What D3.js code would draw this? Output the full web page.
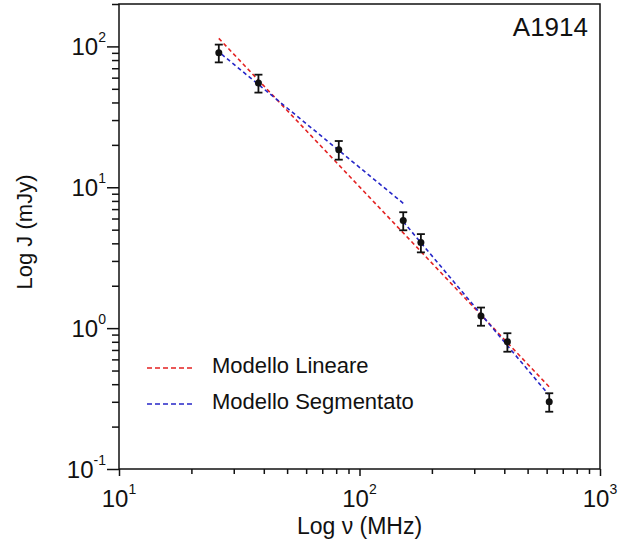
<!DOCTYPE html>
<html>
<head>
<meta charset="utf-8">
<script src="https://cdn.jsdelivr.net/npm/d3@7"></script>
<style>
  html, body { margin: 0; padding: 0; background: #fff; }
  svg { display: block; font-family: "Liberation Sans", Arial, Helvetica, sans-serif; }
</style>
</head>
<body>
<svg id="chart" width="622" height="548"></svg>
<script>
// ---- data ----
const freq = [26, 38, 82, 152, 180, 320, 412, 615];          // MHz
const flux = [90, 55, 18.5, 5.8, 4.05, 1.22, 0.80, 0.30];     // mJy
const fluxErr = [13, 8, 2.8, 0.85, 0.6, 0.18, 0.12, 0.045];   // mJy

const linearFreq = [26, 624];
const linearFlux = [114, 0.373];
const seg1Freq = [26.7, 152];
const seg1Flux = [88, 7.7];
const seg2Freq = [152, 609];
const seg2Flux = [5.7, 0.34];

const xMajor = [10, 100, 1000];
const xMajorExp = ["1", "2", "3"];
const yMajor = [0.1, 1, 10, 100];
const yMajorExp = ["-1", "0", "1", "2"];

const legendLabels = ["Modello Lineare", "Modello Segmentato"];
const legendColors = ["#e32222", "#2626c8"];
const chartTitle = "A1914";

// ---- layout ----
const svg = d3.select("#chart");
const pLeft = 119, pRight = 600, pTop = 4, pBottom = 469;

const x = d3.scaleLog().domain([10, 1000]).range([pLeft, pRight]);
const y = d3.scaleLog().domain([0.1, 200]).range([pBottom, pTop]);

// frame
svg.append("rect")
  .attr("x", pLeft).attr("y", pTop)
  .attr("width", pRight - pLeft).attr("height", pBottom - pTop)
  .attr("fill", "none").attr("stroke", "#111").attr("stroke-width", 1.5);

// minor / major ticks
const xTicks = x.ticks();
const yTicks = y.ticks().filter(d => d <= 200);
const isMajor = v => Math.abs(Math.log10(v) - Math.round(Math.log10(v))) < 1e-6;

const gx = svg.append("g").attr("transform", `translate(0,${pBottom})`);
gx.call(d3.axisBottom(x).tickValues(xTicks).tickFormat("").tickSizeOuter(0).tickSize(5));
gx.selectAll(".tick line").attr("y2", d => isMajor(d) ? 7 : 5);
gx.select(".domain").remove();
gx.selectAll("line").attr("stroke", "#111").attr("stroke-width", 1.5);

const gy = svg.append("g").attr("transform", `translate(${pLeft},0)`);
gy.call(d3.axisLeft(y).tickValues(yTicks).tickFormat("").tickSizeOuter(0).tickSize(7));
gy.selectAll(".tick line").attr("x2", d => isMajor(d) ? -12 : -7);
gy.select(".domain").remove();
gy.selectAll("line").attr("stroke", "#111").attr("stroke-width", 1.5);

// tick labels with superscripts
xMajor.forEach((v, i) => {
  const t = svg.append("text")
    .attr("x", x(v)).attr("y", pBottom + 38)
    .attr("text-anchor", "middle")
    .attr("font-size", 24).attr("fill", "#111");
  t.append("tspan").text("10");
  t.append("tspan").attr("font-size", 14).attr("dy", -13).text(xMajorExp[i]);
});
yMajor.forEach((v, i) => {
  const t = svg.append("text")
    .attr("x", pLeft - 13).attr("y", y(v) + 9)
    .attr("text-anchor", "end")
    .attr("font-size", 24).attr("fill", "#111");
  t.append("tspan").text("10");
  t.append("tspan").attr("font-size", 14).attr("dy", -13).text(yMajorExp[i]);
});

// axis titles
svg.append("text")
  .attr("x", (pLeft + pRight) / 2).attr("y", 534)
  .attr("text-anchor", "middle").attr("font-size", 23).attr("fill", "#111")
  .text("Log \u03bd (MHz)");
svg.append("text")
  .attr("transform", `translate(32,232) rotate(-90)`)
  .attr("text-anchor", "middle").attr("font-size", 22).attr("fill", "#111")
  .text("Log J (mJy)");

// title
svg.append("text")
  .attr("x", 588).attr("y", 36)
  .attr("text-anchor", "end").attr("font-size", 26).attr("fill", "#111")
  .text(chartTitle);

// model lines
const line = d3.line().x(d => x(d[0])).y(d => y(d[1]));
const models = [
  { f: linearFreq, s: linearFlux, c: legendColors[0] },
  { f: seg1Freq, s: seg1Flux, c: legendColors[1] },
  { f: seg2Freq, s: seg2Flux, c: legendColors[1] }
];
models.forEach(m => {
  svg.append("path")
    .datum(d3.zip(m.f, m.s))
    .attr("d", line)
    .attr("fill", "none").attr("stroke", m.c)
    .attr("stroke-width", 1.6).attr("stroke-dasharray", "4,3");
});

// error bars + points
const pts = d3.zip(freq, flux, fluxErr);
const eb = svg.append("g").attr("stroke", "#111").attr("stroke-width", 1.8);
pts.forEach(([f, v, e]) => {
  const cx = x(f);
  eb.append("line").attr("x1", cx).attr("x2", cx).attr("y1", y(v + e)).attr("y2", y(v - e));
  eb.append("line").attr("x1", cx - 4).attr("x2", cx + 4).attr("y1", y(v + e)).attr("y2", y(v + e));
  eb.append("line").attr("x1", cx - 4).attr("x2", cx + 4).attr("y1", y(v - e)).attr("y2", y(v - e));
});
svg.append("g").selectAll("circle").data(pts).join("circle")
  .attr("cx", d => x(d[0])).attr("cy", d => y(d[1])).attr("r", 3.5)
  .attr("fill", "#111");

// legend
legendLabels.forEach((lab, i) => {
  const ly = 368 + i * 36;
  svg.append("line")
    .attr("x1", 147).attr("x2", 194).attr("y1", ly).attr("y2", ly)
    .attr("stroke", legendColors[i]).attr("stroke-width", 1.6)
    .attr("stroke-dasharray", "5,3");
  svg.append("text")
    .attr("x", 212).attr("y", ly + 5)
    .attr("font-size", 22).attr("fill", "#111")
    .text(lab);
});
</script>
</body>
</html>
